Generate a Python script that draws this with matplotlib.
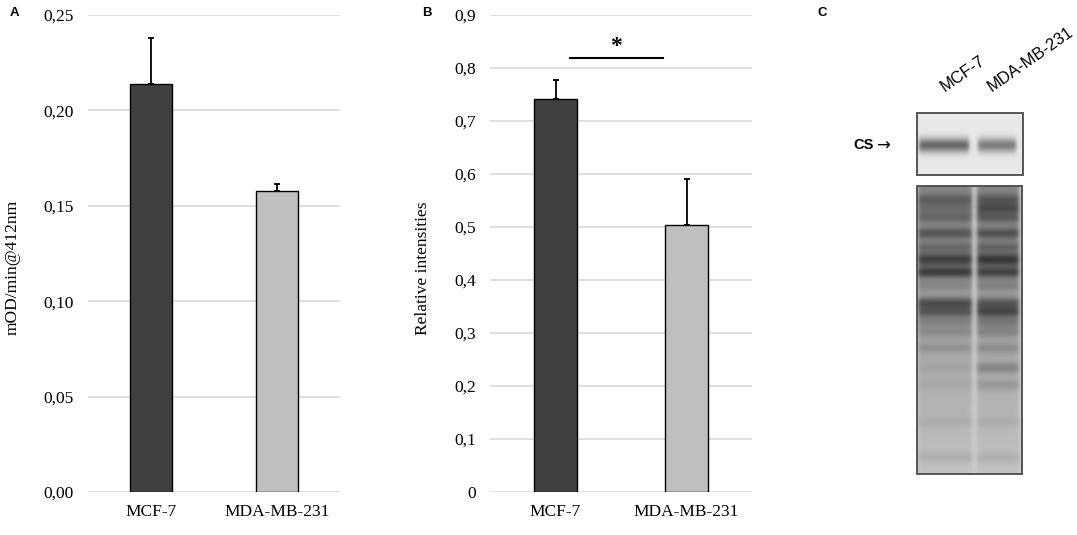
import numpy as np
import matplotlib
matplotlib.use("Agg")
import matplotlib.pyplot as plt
from matplotlib.patches import Rectangle

# -------------------------
# DATA
# -------------------------
cell_lines = ["MCF-7", "MDA-MB-231"]
bar_colors = ["#404040", "#bfbfbf"]

# A: citrate synthase activity
activity = [0.214, 0.158]
activity_err = [0.024, 0.0035]
activity_ticks = [0.00, 0.05, 0.10, 0.15, 0.20, 0.25]

# B: western blot densitometry
intensity = [0.742, 0.503]
intensity_err = [0.035, 0.087]
intensity_ticks = [0, 0.1, 0.2, 0.3, 0.4, 0.5, 0.6, 0.7, 0.8, 0.9]
sig_level = 0.818

# C: blot bands (position down the gel 0..1, darkness per lane)
cs_signal = [0.50, 0.42]
band_pos = [0.045, 0.076, 0.108, 0.163, 0.212, 0.250, 0.267, 0.299, 0.344,
            0.406, 0.437, 0.472, 0.507, 0.563, 0.632, 0.691, 0.819, 0.944]
band_mcf7 = [0.16, 0.10, 0.14, 0.22, 0.16, 0.26, 0.12, 0.34, 0.08,
             0.30, 0.26, 0.12, 0.10, 0.08, 0.03, 0.03, 0.04, 0.06]
band_mda = [0.18, 0.22, 0.18, 0.24, 0.18, 0.28, 0.14, 0.32, 0.10,
            0.26, 0.32, 0.15, 0.12, 0.10, 0.15, 0.09, 0.04, 0.06]

W, H = 1077, 535
SERIF = ["Liberation Serif", "DejaVu Serif"]
SANS = ["Liberation Sans", "DejaVu Sans"]

fig = plt.figure(figsize=(W / 100, H / 100), dpi=100)


def px_axes(x0, y0, x1, y1):
    return fig.add_axes([x0 / W, 1 - y1 / H, (x1 - x0) / W, (y1 - y0) / H])


def comma(v, fmt):
    return format(v, fmt).replace(".", ",")


def bar_panel(ax, vals, errs, ticks, fmt, ylabel):
    x = np.arange(len(vals))
    ax.bar(x, vals, width=0.33, color=bar_colors, edgecolor="black",
           linewidth=1.0, zorder=3)
    ax.errorbar(x, vals, yerr=[np.zeros(len(errs)), errs], fmt="none",
                ecolor="black", elinewidth=1.3, capsize=2.5, capthick=1.3,
                zorder=4)
    ax.set_xlim(-0.5, 1.5)
    ax.set_ylim(ticks[0], ticks[-1])
    ax.set_yticks(ticks)
    ax.set_yticklabels([comma(t, fmt) for t in ticks], family=SERIF, fontsize=12.5)
    ax.set_xticks(x)
    ax.set_xticklabels(cell_lines, family=SERIF, fontsize=12.5)
    ax.yaxis.grid(True, color="#d9d9d9", linewidth=1.2)
    ax.set_axisbelow(True)
    for s in ax.spines.values():
        s.set_visible(False)
    ax.tick_params(length=0)
    ax.tick_params(axis="y", pad=10)
    ax.tick_params(axis="x", pad=9)
    ax.set_ylabel(ylabel, family=SERIF, fontsize=12.5)


# -------------------------
# A
# -------------------------
axA = px_axes(88, 15, 340, 492)
bar_panel(axA, activity, activity_err, activity_ticks, ".2f", "mOD/min@412nm")
axA.yaxis.set_label_coords(-0.266, 0.47)

# -------------------------
# B
# -------------------------
axB = px_axes(490, 15, 752, 492)
bar_panel(axB, intensity, intensity_err, intensity_ticks, "g", "Relative intensities")
axB.yaxis.set_label_coords(-0.225, 0.47)
axB.plot([0.11, 0.82], [sig_level, sig_level], color="black", lw=1.5, zorder=5)
axB.text(0.465, sig_level + 0.003, "*", ha="center", va="bottom",
         fontsize=17, fontweight="bold", family=SERIF)

# -------------------------
# C (blot)
# -------------------------
axC = px_axes(800, 0, 1077, 535)
axC.set_axis_off()

lanes_x = [(918, 972), (977, 1019)]


def lane_mask(xs, x0, x1, soft=1.2):
    return 1 / (1 + np.exp(-(xs - x0) / soft)) / (1 + np.exp((xs - x1) / soft))


# top blot (CS)
tx0, tx1, ty0, ty1 = 917, 1023, 113, 175
xs = tx0 + np.arange(tx1 - tx0) + 0.5
ys = np.linspace(0, 1, ty1 - ty0)
dark = np.zeros((len(ys), len(xs)))
for (l0, l1), s in zip(lanes_x, cs_signal):
    prof = s * np.exp(-0.5 * ((ys - 0.52) / 0.085) ** 2)
    dark += prof[:, None] * lane_mask(xs, l0 + 1, l1 - 3)[None, :]
axC.imshow(0.91 - dark, cmap="gray", vmin=0, vmax=1, extent=(tx0, tx1, ty1, ty0),
           aspect="auto", interpolation="bilinear")
axC.add_patch(Rectangle((tx0, ty0), tx1 - tx0, ty1 - ty0, fill=False,
                        edgecolor="#4a4a4a", lw=1.3))

# bottom blot (loading)
bx0, bx1, by0, by1 = 917, 1022, 186, 474
xs = bx0 + np.arange(bx1 - bx0) + 0.5
ys = np.linspace(0, 1, by1 - by0)
dark = np.zeros((len(ys), len(xs)))
for (l0, l1), bands in zip(lanes_x, [band_mcf7, band_mda]):
    prof = 0.24 * (1 - ys) + 0.04
    for p, d in zip(band_pos, bands):
        prof = prof + d * np.exp(-0.5 * ((ys - p) / 0.014) ** 2)
    dark += prof[:, None] * lane_mask(xs, l0, l1)[None, :]
axC.imshow(np.clip(0.80 - dark, 0, 1), cmap="gray", vmin=0, vmax=1,
           extent=(bx0, bx1, by1, by0), aspect="auto", interpolation="bilinear")
axC.add_patch(Rectangle((bx0, by0), bx1 - bx0, by1 - by0, fill=False,
                        edgecolor="#4a4a4a", lw=1.3))

axC.set_xlim(800, 1077)
axC.set_ylim(535, 0)

axC.text(853, 145, "CS", ha="left", va="center", fontsize=10.5,
         fontweight="bold", family=SANS)
axC.text(876, 146, "\u2192", ha="left", va="center", fontsize=12,
         family=["DejaVu Sans"])
for name, xa in zip(cell_lines, [945, 992]):
    axC.text(xa, 92, name, rotation=35, rotation_mode="anchor", ha="left",
             va="baseline", fontsize=12, family=SANS)

# panel letters
for letter, xp in zip(["A", "B", "C"], [10, 422, 818]):
    fig.text(xp / W, 1 - 13 / H, letter, ha="left", va="center", fontsize=9.5,
             fontweight="bold", family=SANS)

fig.savefig("out.png", dpi=100)
